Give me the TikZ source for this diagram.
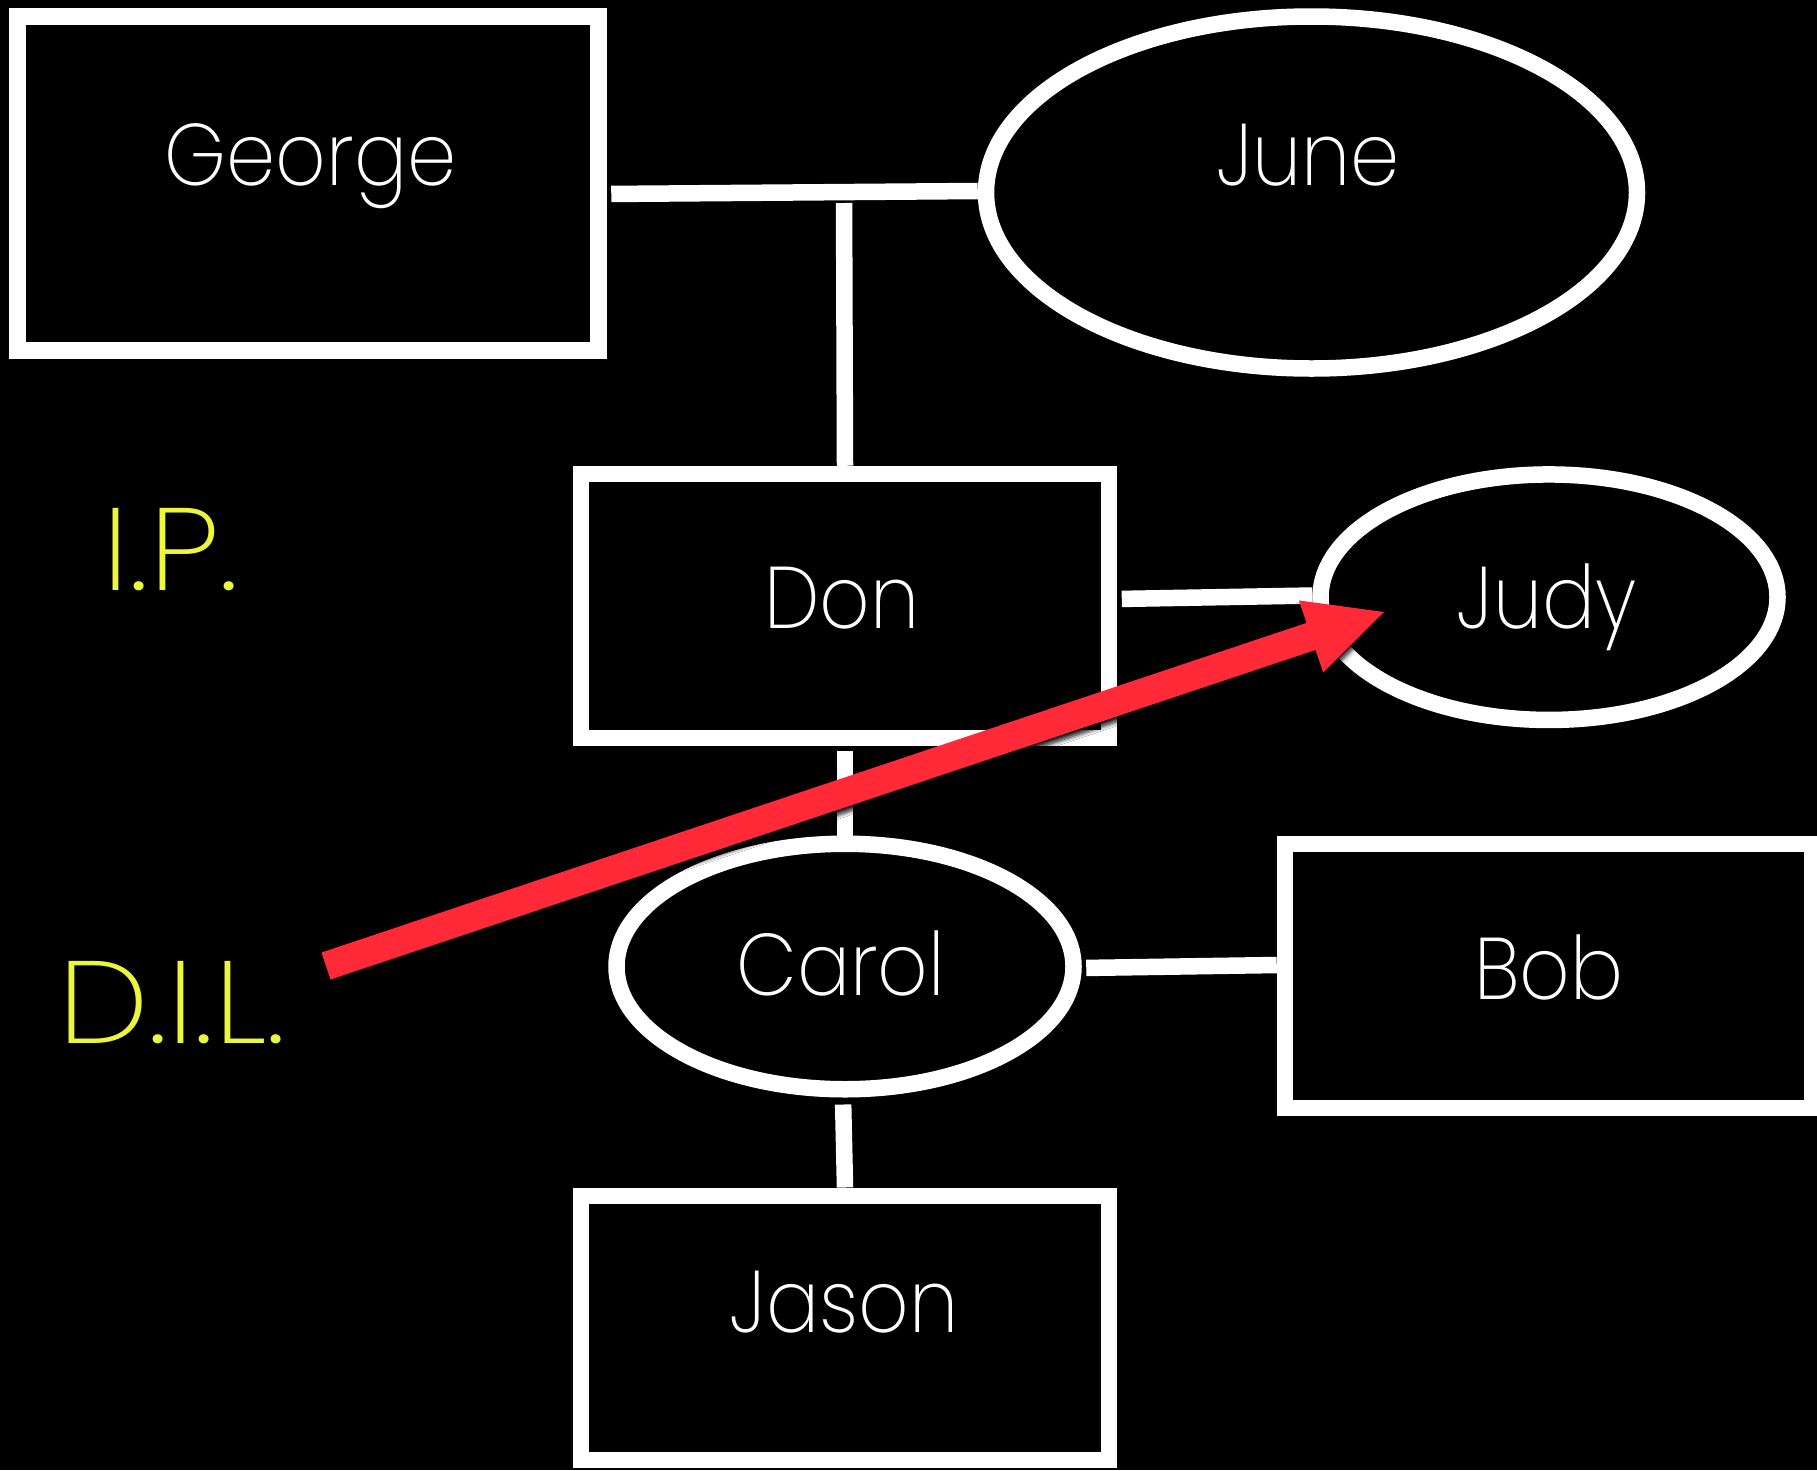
\documentclass[tikz,border=0pt]{standalone}
\usepackage{fontspec}
\setmainfont{Poppins}[UprightFont=* ExtraLight]
\newfontfamily\namefont{Poppins}[UprightFont=* ExtraLight, FakeStretch=0.9]
\newfontfamily\tagfont{Poppins}[UprightFont=* ExtraLight, FakeStretch=1.1]
\usetikzlibrary{shapes.geometric,shadows.blur}
\definecolor{arrowred}{RGB}{255,41,56}
\definecolor{labelyellow}{RGB}{236,246,58}
\tikzset{
  person/.style={draw=white, fill=black, line width=16.5pt, inner sep=0pt, outer sep=8.25pt},
  male/.style={person, rectangle, minimum width=528pt, minimum height=264pt},
  female/.style={person, ellipse, minimum width=457pt, minimum height=245.5pt},
  namelabel/.style={text=white, anchor=base, inner sep=0pt, font=\namefont\fontsize{87.5}{100}\selectfont},
  taglabel/.style={text=labelyellow, anchor=base, inner sep=0pt, font=\tagfont\fontsize{117}{130}\selectfont},
  link/.style={draw=white, line width=16.5pt, shorten <=4.5pt},
}
\begin{document}
\begin{tikzpicture}[x=1pt, y=-1pt]
\useasboundingbox (0,0) rectangle (1817,1470);
\fill[black] (0,0) rectangle (1817,1470);

% people
\node[person, rectangle, minimum width=581pt, minimum height=334pt] (George) at (308,183.5) {};
\node[female, minimum width=651pt, minimum height=352pt] (June) at (1311.5,192.5) {};
\node[male] (Don) at (845,606) {};
\node[female] (Judy) at (1549,597.2) {};
\node[female] (Carol) at (845,966.5) {};
\node[male, minimum width=527.5pt] (Bob) at (1548.75,975.75) {};
\node[male] (Jason) at (845,1327.75) {};

\coordinate (union) at (844,192);

% connectors
\draw[link] ([yshift=-10.5pt]George.east) -- ([yshift=1.5pt]June.west);
\draw[link, shorten <=11pt] (union) -- (Don.north);
\draw[link] ([yshift=7pt]Don.east) -- ([yshift=1.7pt]Judy.west);
\draw[link] (Don.south) -- (Carol.north);
\draw[link] ([yshift=-1.5pt]Carol.east) -- ([yshift=10.75pt]Bob.west);
\draw[link, shorten <=7pt] ([xshift=-2pt]Carol.south) -- (Jason.north);

% names
\node[namelabel] (GeorgeT) at (310.5,185) {George};
\node[namelabel] (JuneT) at (1308,185) {June};
\node[namelabel] (DonT) at (842,628.3) {Don};
\node[namelabel] (JudyT) at (1546.7,628) {Judy};
\node[namelabel] (CarolT) at (841,995) {Carol};
\node[namelabel] (BobT) at (1549,999) {Bob};
\node[namelabel] (JasonT) at (844,1332.7) {Jason};

\node[taglabel] (IP) at (170.7,590) {I.P.};
\node[taglabel] (DIL) at (172,1043.7) {D.I.L.};

% red arrow
\coordinate (a1) at (321.5,952.5);
\coordinate (a2) at (1306.5,622.9);
\coordinate (a3) at (1298.9,600.4);
\coordinate (tip) at (1384,612);
\coordinate (a5) at (1323.1,672.4);
\coordinate (a6) at (1315.5,649.9);
\coordinate (a7) at (330.5,979.5);
\fill[arrowred, blur shadow={shadow xshift=1pt, shadow yshift=-5pt, shadow blur radius=4pt, shadow blur steps=8, shadow opacity=90}]
  (a1) -- (a2) -- (a3) -- (tip) -- (a5) -- (a6) -- (a7) -- cycle;
\end{tikzpicture}
\end{document}
